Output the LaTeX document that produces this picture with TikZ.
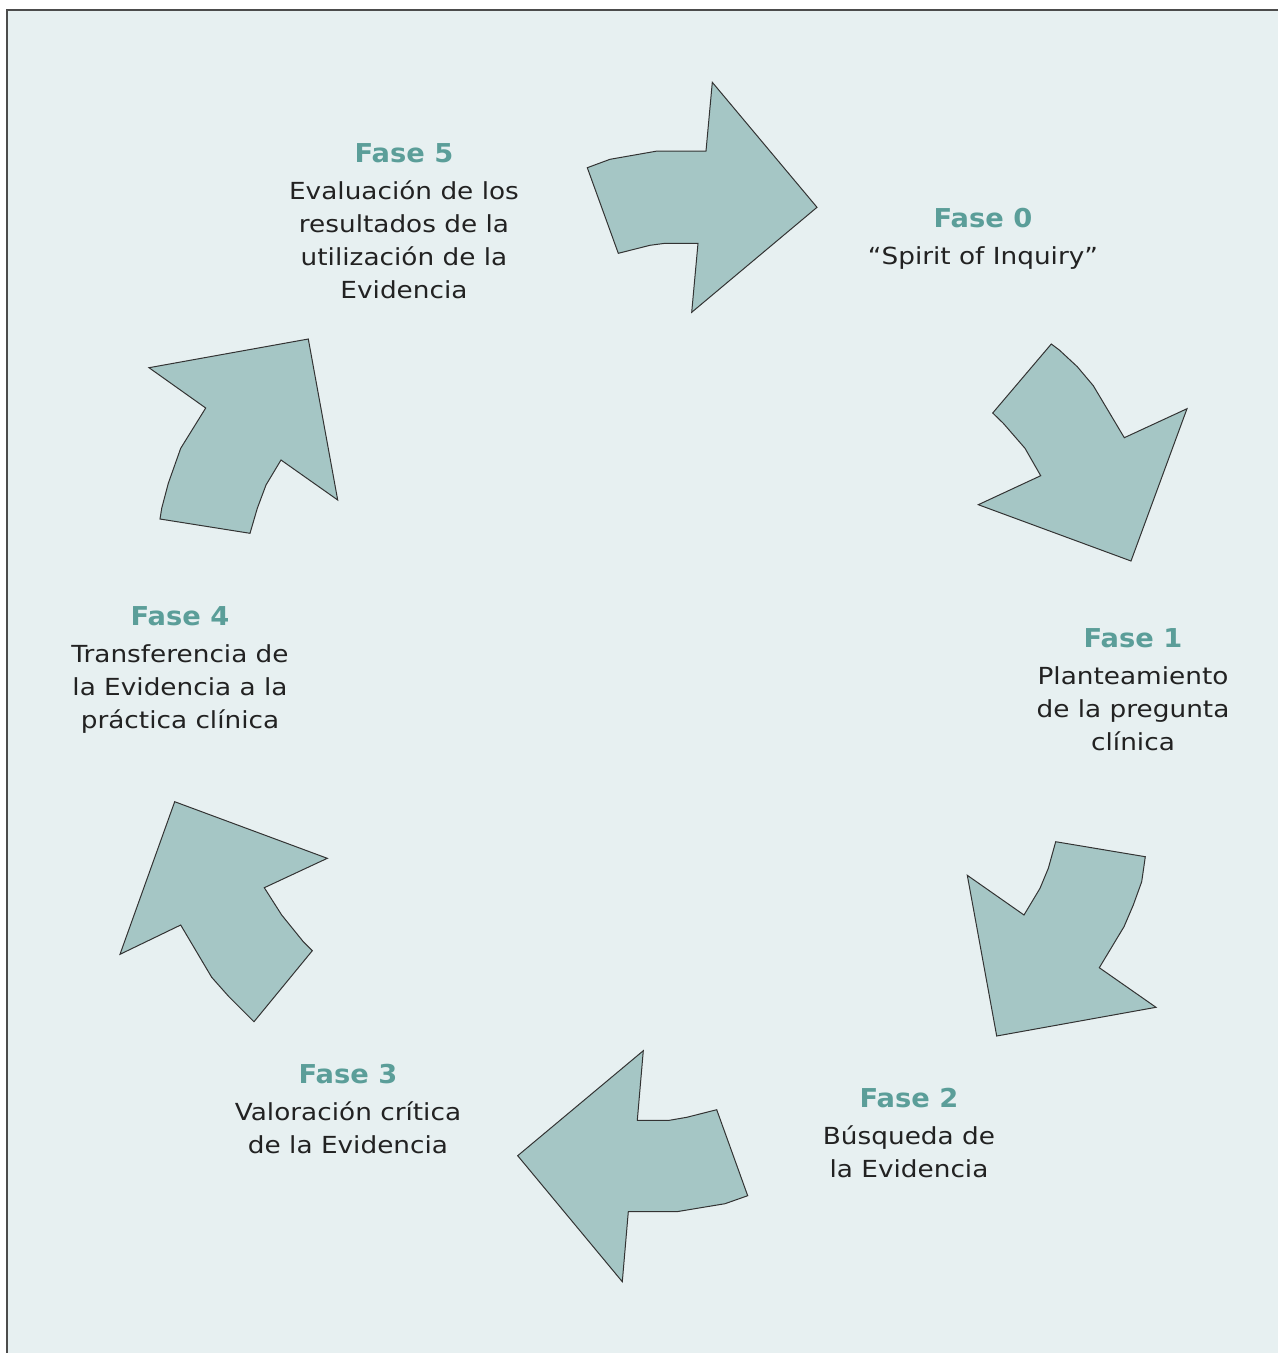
\documentclass[tikz,border=0pt]{standalone}
\usepackage{fontspec}
\setmainfont{DejaVu Sans}[FakeStretch=1.12,BoldFeatures={FakeStretch=1.05}]
\definecolor{bgc}{HTML}{E7F0F1}
\definecolor{arrc}{HTML}{A5C6C5}
\definecolor{headc}{HTML}{5B9E99}
\definecolor{txtc}{HTML}{222222}
\newcommand\phasehead[1]{{\fontsize{26}{33}\selectfont\bfseries\color{headc}#1}}
\begin{document}
\begin{tikzpicture}[x=1pt,y=-1pt,
  arrowshape/.style={fill=arrc,draw=black!80,line width=1pt,line join=miter},
  phaselabel/.style={anchor=base,inner sep=0pt,align=center,text=txtc,
    font=\fontsize{23.5}{33}\selectfont}]
\useasboundingbox (0,0) rectangle (1278,1353);
\fill[white] (0,0) rectangle (1278,1353);
\fill[bgc] (7,10) rectangle (1278,1353);
\draw[black!70,line width=1.5pt] (7,1353) -- (7,10) -- (1278,10);

% arrow 5 -> 0
\draw[arrowshape] (587.3,167.7) -- (610,159.3) -- (657.3,151) -- (706,151) -- (712.3,82.3) -- (817,207.3) -- (691.7,312.3) -- (698,243.3) -- (665,243.3) -- (650,245.3) -- (618.3,253.3) -- cycle;
% arrow 0 -> 1
\draw[arrowshape] (1051.3,344) -- (1059.3,350) -- (1077.3,366.7) -- (1093.3,385.7) -- (1124.3,437.7) -- (1187,408.7) -- (1131,561) -- (978.3,504.7) -- (1040.7,475.7) -- (1025,448.3) -- (1003.3,423.3) -- (992.7,413) -- cycle;
% arrow 1 -> 2
\draw[arrowshape] (1055.7,841.7) -- (1145.3,856.7) -- (1141.7,881.7) -- (1133.3,905) -- (1124,926.7) -- (1099.3,967.7) -- (1156,1007.3) -- (996.7,1036) -- (967.3,875.3) -- (1024,915) -- (1040,888.3) -- (1048.3,868.3) -- cycle;
% arrow 2 -> 3
\draw[arrowshape] (643.3,1050.7) -- (637.3,1120.3) -- (669.3,1120.3) -- (686.7,1117.3) -- (716.7,1109.7) -- (747.7,1195.7) -- (725,1203.7) -- (676.7,1211.7) -- (628.3,1211.7) -- (622.3,1281.7) -- (517.7,1155.7) -- cycle;
% arrow 3 -> 4
\draw[arrowshape] (174.7,801.7) -- (327.3,858.3) -- (264.3,887.7) -- (281.7,915) -- (303.3,941.7) -- (312.3,950.7) -- (254,1021.7) -- (228.3,996) -- (211.7,977.3) -- (180.7,925) -- (120,954.3) -- cycle;
% arrow 4 -> 5
\draw[arrowshape] (308.3,339) -- (337.7,500) -- (281,460) -- (266,485) -- (257.3,508.3) -- (250,533.3) -- (160,519) -- (161.7,508.3) -- (168.3,483.3) -- (180.7,448.3) -- (205.7,408) -- (149,367.7) -- cycle;

\node[phaselabel] (f0) at (983,264) {\phasehead{Fase 0}\\[4pt]“Spirit of Inquiry”};
\node[phaselabel] (f1) at (1133,750) {\phasehead{Fase 1}\\[4pt]Planteamiento\\de la pregunta\\clínica};
\node[phaselabel] (f2) at (909,1177) {\phasehead{Fase 2}\\[4pt]Búsqueda de\\la Evidencia};
\node[phaselabel] (f3) at (348,1153) {\phasehead{Fase 3}\\[4pt]Valoración crítica\\de la Evidencia};
\node[phaselabel] (f4) at (180,728) {\phasehead{Fase 4}\\[4pt]Transferencia de\\la Evidencia a la\\práctica clínica};
\node[phaselabel] (f5) at (404,298) {\phasehead{Fase 5}\\[4pt]Evaluación de los\\resultados de la\\utilización de la\\Evidencia};
\end{tikzpicture}
\end{document}
